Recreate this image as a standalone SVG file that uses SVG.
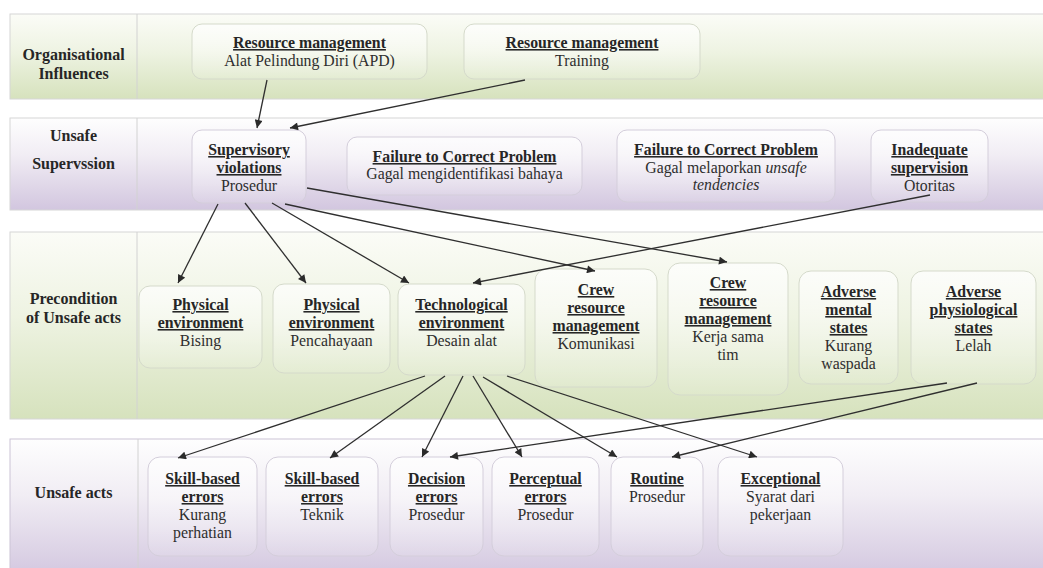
<svg xmlns="http://www.w3.org/2000/svg" width="1043" height="568" viewBox="0 0 1043 568">
<style>
text{font-family:"Liberation Serif","Times New Roman",serif;font-size:15.8px;fill:#2e2e2e;text-anchor:middle}
.lab{font-weight:bold;font-size:16px;fill:#262626}
.t{font-weight:bold;text-decoration:underline;fill:#262626}
.i{font-style:italic}
.band{stroke:#d6d6d6;stroke-width:1}
.div{stroke:#d2d2d2;stroke-width:1}
.ng{fill:url(#nodeG);stroke:#d5dacb;stroke-width:1}
.np{fill:url(#nodeP);stroke:#d4cedb;stroke-width:1}
.c{stroke:#2f2f2f;stroke-width:1.3;fill:none;marker-end:url(#ah)}
</style>
<defs>
<linearGradient id="gG" x1="0" y1="0" x2="0" y2="1">
<stop offset="0" stop-color="#fbfcf7"/>
<stop offset="0.45" stop-color="#eef3e2"/>
<stop offset="1" stop-color="#d6e2bd"/>
</linearGradient>
<linearGradient id="gP" x1="0" y1="0" x2="0" y2="1">
<stop offset="0" stop-color="#fefefe"/>
<stop offset="0.4" stop-color="#f1edf4"/>
<stop offset="1" stop-color="#d2c6df"/>
</linearGradient>
<linearGradient id="nodeG" x1="0" y1="0" x2="0" y2="1">
<stop offset="0" stop-color="#ffffff" stop-opacity="0.7"/>
<stop offset="1" stop-color="#ffffff" stop-opacity="0.1"/>
</linearGradient>
<linearGradient id="nodeP" x1="0" y1="0" x2="0" y2="1">
<stop offset="0" stop-color="#ffffff" stop-opacity="0.7"/>
<stop offset="1" stop-color="#ffffff" stop-opacity="0.1"/>
</linearGradient>
<marker id="ah" viewBox="0 0 10 10" refX="10" refY="5" markerWidth="9" markerHeight="8" markerUnits="userSpaceOnUse" orient="auto">
<path d="M0,0 L10,5 L0,10 z" fill="#2a2a2a"/>
</marker>
</defs>
<rect width="1043" height="568" fill="#ffffff"/>
<g id="bands">
<rect class="band" x="10" y="14" width="1040" height="85" fill="url(#gG)"/>
<line class="div" x1="137" y1="14" x2="137" y2="99"/>
<rect class="band" x="10" y="118" width="1040" height="92" fill="url(#gP)"/>
<line class="div" x1="137" y1="118" x2="137" y2="210"/>
<rect class="band" x="10" y="232" width="1040" height="187" fill="url(#gG)"/>
<line class="div" x1="137" y1="232" x2="137" y2="419"/>
<rect class="band" x="10" y="439" width="1040" height="140" fill="url(#gP)" style="stroke:#cbc3d6"/>
<line class="div" x1="138" y1="439" x2="138" y2="568"/>
<text class="lab" x="73.5" y="60">Organisational</text>
<text class="lab" x="73.5" y="79">Influences</text>
<text class="lab" x="73.5" y="141">Unsafe</text>
<text class="lab" x="73.5" y="169">Supervssion</text>
<text class="lab" x="73.5" y="304">Precondition</text>
<text class="lab" x="73.5" y="323">of Unsafe acts</text>
<text class="lab" x="73.5" y="498">Unsafe acts</text>
</g>
<g id="rm1"><rect class="ng" x="192" y="24" width="235" height="55" rx="10"/><text class="t" x="309.5" y="48">Resource management</text><text x="309.5" y="66">Alat Pelindung Diri (APD)</text></g>
<g id="rm2"><rect class="ng" x="464" y="24" width="236" height="55" rx="10"/><text class="t" x="582" y="48">Resource management</text><text x="582" y="66">Training</text></g>
<g id="sv"><rect class="np" x="192" y="130" width="114" height="73" rx="10"/><text class="t" x="249" y="155">Supervisory</text><text class="t" x="249" y="173">violations</text><text x="249" y="191">Prosedur</text></g>
<g id="fcp1"><rect class="np" x="347" y="137" width="235" height="58" rx="10"/><text class="t" x="464.5" y="162">Failure to Correct Problem</text><text x="464.5" y="179">Gagal mengidentifikasi bahaya</text></g>
<g id="fcp2"><rect class="np" x="617" y="130" width="218" height="72" rx="10"/><text class="t" x="726" y="155">Failure to Correct Problem</text><text x="726" y="173">Gagal melaporkan <tspan class="i">unsafe</tspan></text><text class="i" x="726" y="190">tendencies</text></g>
<g id="is"><rect class="np" x="871" y="130" width="117" height="72" rx="10"/><text class="t" x="929.5" y="155">Inadequate</text><text class="t" x="929.5" y="173">supervision</text><text x="929.5" y="191">Otoritas</text></g>
<g id="pe1"><rect class="ng" x="139" y="286" width="123" height="82" rx="11"/><text class="t" x="200.5" y="310">Physical</text><text class="t" x="200.5" y="328">environment</text><text x="200.5" y="346">Bising</text></g>
<g id="pe2"><rect class="ng" x="273" y="284" width="117" height="89" rx="11"/><text class="t" x="331.5" y="310">Physical</text><text class="t" x="331.5" y="328">environment</text><text x="331.5" y="346">Pencahayaan</text></g>
<g id="te"><rect class="ng" x="398" y="284" width="127" height="91" rx="11"/><text class="t" x="461.5" y="310">Technological</text><text class="t" x="461.5" y="328">environment</text><text x="461.5" y="346">Desain alat</text></g>
<g id="crm1"><rect class="ng" x="535" y="269" width="122" height="118" rx="12"/><text class="t" x="596" y="295">Crew</text><text class="t" x="596" y="313">resource</text><text class="t" x="596" y="331">management</text><text x="596" y="349">Komunikasi</text></g>
<g id="crm2"><rect class="ng" x="668" y="263" width="120" height="132" rx="12"/><text class="t" x="728" y="288">Crew</text><text class="t" x="728" y="306">resource</text><text class="t" x="728" y="324">management</text><text x="728" y="342">Kerja sama</text><text x="728" y="360">tim</text></g>
<g id="ams"><rect class="ng" x="799" y="271" width="99" height="113" rx="12"/><text class="t" x="848.5" y="297">Adverse</text><text class="t" x="848.5" y="315">mental</text><text class="t" x="848.5" y="333">states</text><text x="848.5" y="351">Kurang</text><text x="848.5" y="369">waspada</text></g>
<g id="aps"><rect class="ng" x="911" y="271" width="125" height="113" rx="12"/><text class="t" x="973.5" y="297">Adverse</text><text class="t" x="973.5" y="315">physiological</text><text class="t" x="973.5" y="333">states</text><text x="973.5" y="351">Lelah</text></g>
<g id="sb1"><rect class="np" x="148" y="457" width="109" height="99" rx="12"/><text class="t" x="202.5" y="484">Skill-based</text><text class="t" x="202.5" y="502">errors</text><text x="202.5" y="520">Kurang</text><text x="202.5" y="538">perhatian</text></g>
<g id="sb2"><rect class="np" x="266" y="457" width="112" height="99" rx="12"/><text class="t" x="322" y="484">Skill-based</text><text class="t" x="322" y="502">errors</text><text x="322" y="520">Teknik</text></g>
<g id="de"><rect class="np" x="390" y="457" width="93" height="99" rx="12"/><text class="t" x="436.5" y="484">Decision</text><text class="t" x="436.5" y="502">errors</text><text x="436.5" y="520">Prosedur</text></g>
<g id="pce"><rect class="np" x="492" y="457" width="107" height="99" rx="12"/><text class="t" x="545.5" y="484">Perceptual</text><text class="t" x="545.5" y="502">errors</text><text x="545.5" y="520">Prosedur</text></g>
<g id="rt"><rect class="np" x="611" y="457" width="92" height="99" rx="12"/><text class="t" x="657" y="484">Routine</text><text x="657" y="502">Prosedur</text></g>
<g id="ex"><rect class="np" x="718" y="457" width="125" height="99" rx="12"/><text class="t" x="780.5" y="484">Exceptional</text><text x="780.5" y="502">Syarat dari</text><text x="780.5" y="520">pekerjaan</text></g>
<g id="connectors">
<path class="c" d="M267,80 L257,128"/>
<path class="c" d="M525,80 L290,128"/>
<path class="c" d="M218,204 L178,283"/>
<path class="c" d="M245,203 L306,283"/>
<path class="c" d="M272,203 L409,283"/>
<path class="c" d="M285,204 L595,271"/>
<path class="c" d="M307,188 L727,262"/>
<path class="c" d="M930,195 L473,283"/>
<path class="c" d="M425,376 L178,458"/>
<path class="c" d="M445,376 L330,458"/>
<path class="c" d="M463,376 L422,457"/>
<path class="c" d="M473,376 L522,457"/>
<path class="c" d="M483,377 L617,457"/>
<path class="c" d="M507,376 L757,457"/>
<path class="c" d="M947,383 L450,457"/>
<path class="c" d="M977,383 L672,457"/>
</g>
</svg>
